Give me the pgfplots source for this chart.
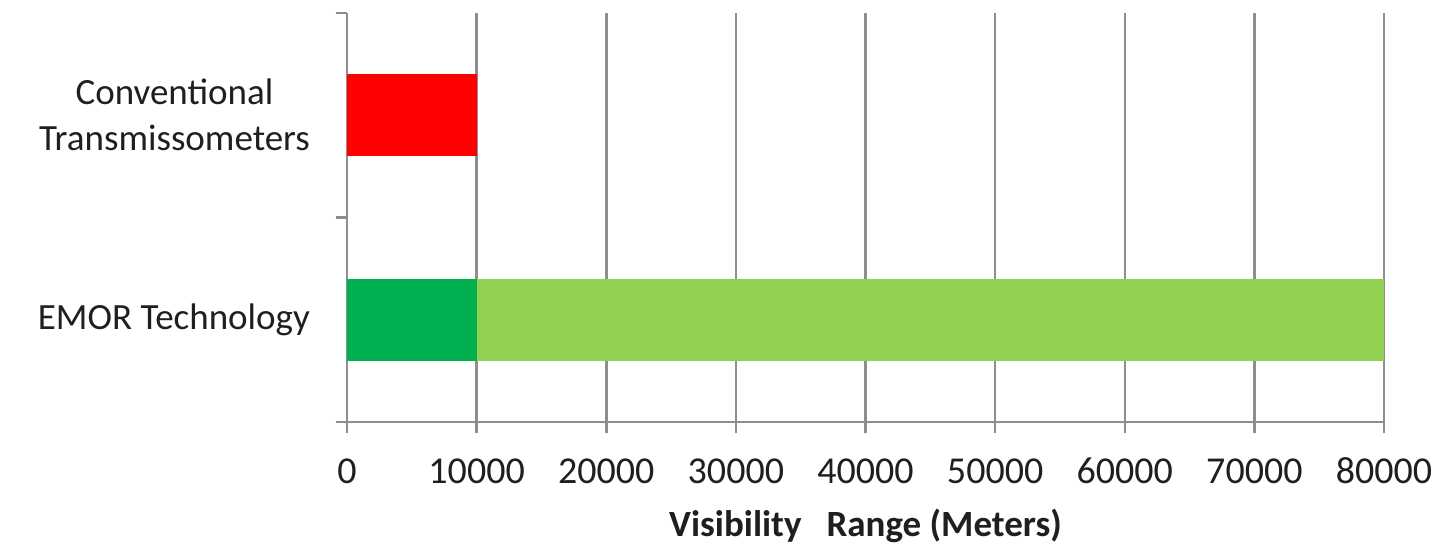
\documentclass[border=0pt]{standalone}
\usepackage{fontspec}
\setmainfont{Carlito}
\usepackage{pgfplots}
\pgfplotsset{compat=1.18}
\definecolor{cred}{HTML}{FF0000}
\definecolor{dgreen}{HTML}{00B050}
\definecolor{lgreen}{HTML}{92D050}
\definecolor{axgray}{HTML}{8E8E8E}
\begin{document}
\begin{tikzpicture}
\begin{axis}[
  name=ax,
  scale only axis, width=518.5pt, height=204.5pt,
  xbar stacked, bar width=41pt,
  xmin=0, xmax=80000, ymin=-0.5, ymax=1.5,
  scaled x ticks=false,
  axis lines=left,
  axis line style={draw=axgray, line width=1.25pt, -},
  xmajorgrids,
  grid style={draw=axgray, line width=1.25pt},
  tick align=outside,
  major tick length=0pt,
  minor tick length=5.5pt,
  minor tick style={draw=axgray, line width=1.25pt},
  xtick={0,10000,20000,30000,40000,50000,60000,70000,80000},
  xticklabels={0,10000,20000,30000,40000,50000,60000,70000,80000},
  minor xtick={0,10000,20000,30000,40000,50000,60000,70000,80000},
  ytick={0,1},
  yticklabels={EMOR Technology,{Conventional\\Transmissometers}},
  minor ytick={-0.5,0.5,1.5},
  x tick label style={font=\fontsize{19}{22}\selectfont, text=black!88, text height=12pt, text depth=0pt, yshift=-15pt},
  y tick label style={font=\fontsize{18.5}{23}\selectfont, text=black!88, align=center, xshift=-15pt},
  xlabel={\textbf{Visibility\hspace{12.5pt}Range (Meters)}},
  xlabel style={font=\fontsize{18.5}{22}\selectfont, text=black!88, at={(axis description cs:0.5,0)}, anchor=north, yshift=-40pt},
]
\addplot[fill=cred, draw=none] coordinates {(10000,1) (0,0)};
\addplot[fill=dgreen, draw=none] coordinates {(0,1) (10000,0)};
\addplot[fill=lgreen, draw=none] coordinates {(0,1) (70000,0)};
\end{axis}
\pgfresetboundingbox
\path[use as bounding box] ([xshift=-173.5pt,yshift=-61pt]ax.south west) rectangle ([xshift=33.5pt,yshift=6.5pt]ax.north east);
\end{tikzpicture}
\end{document}
